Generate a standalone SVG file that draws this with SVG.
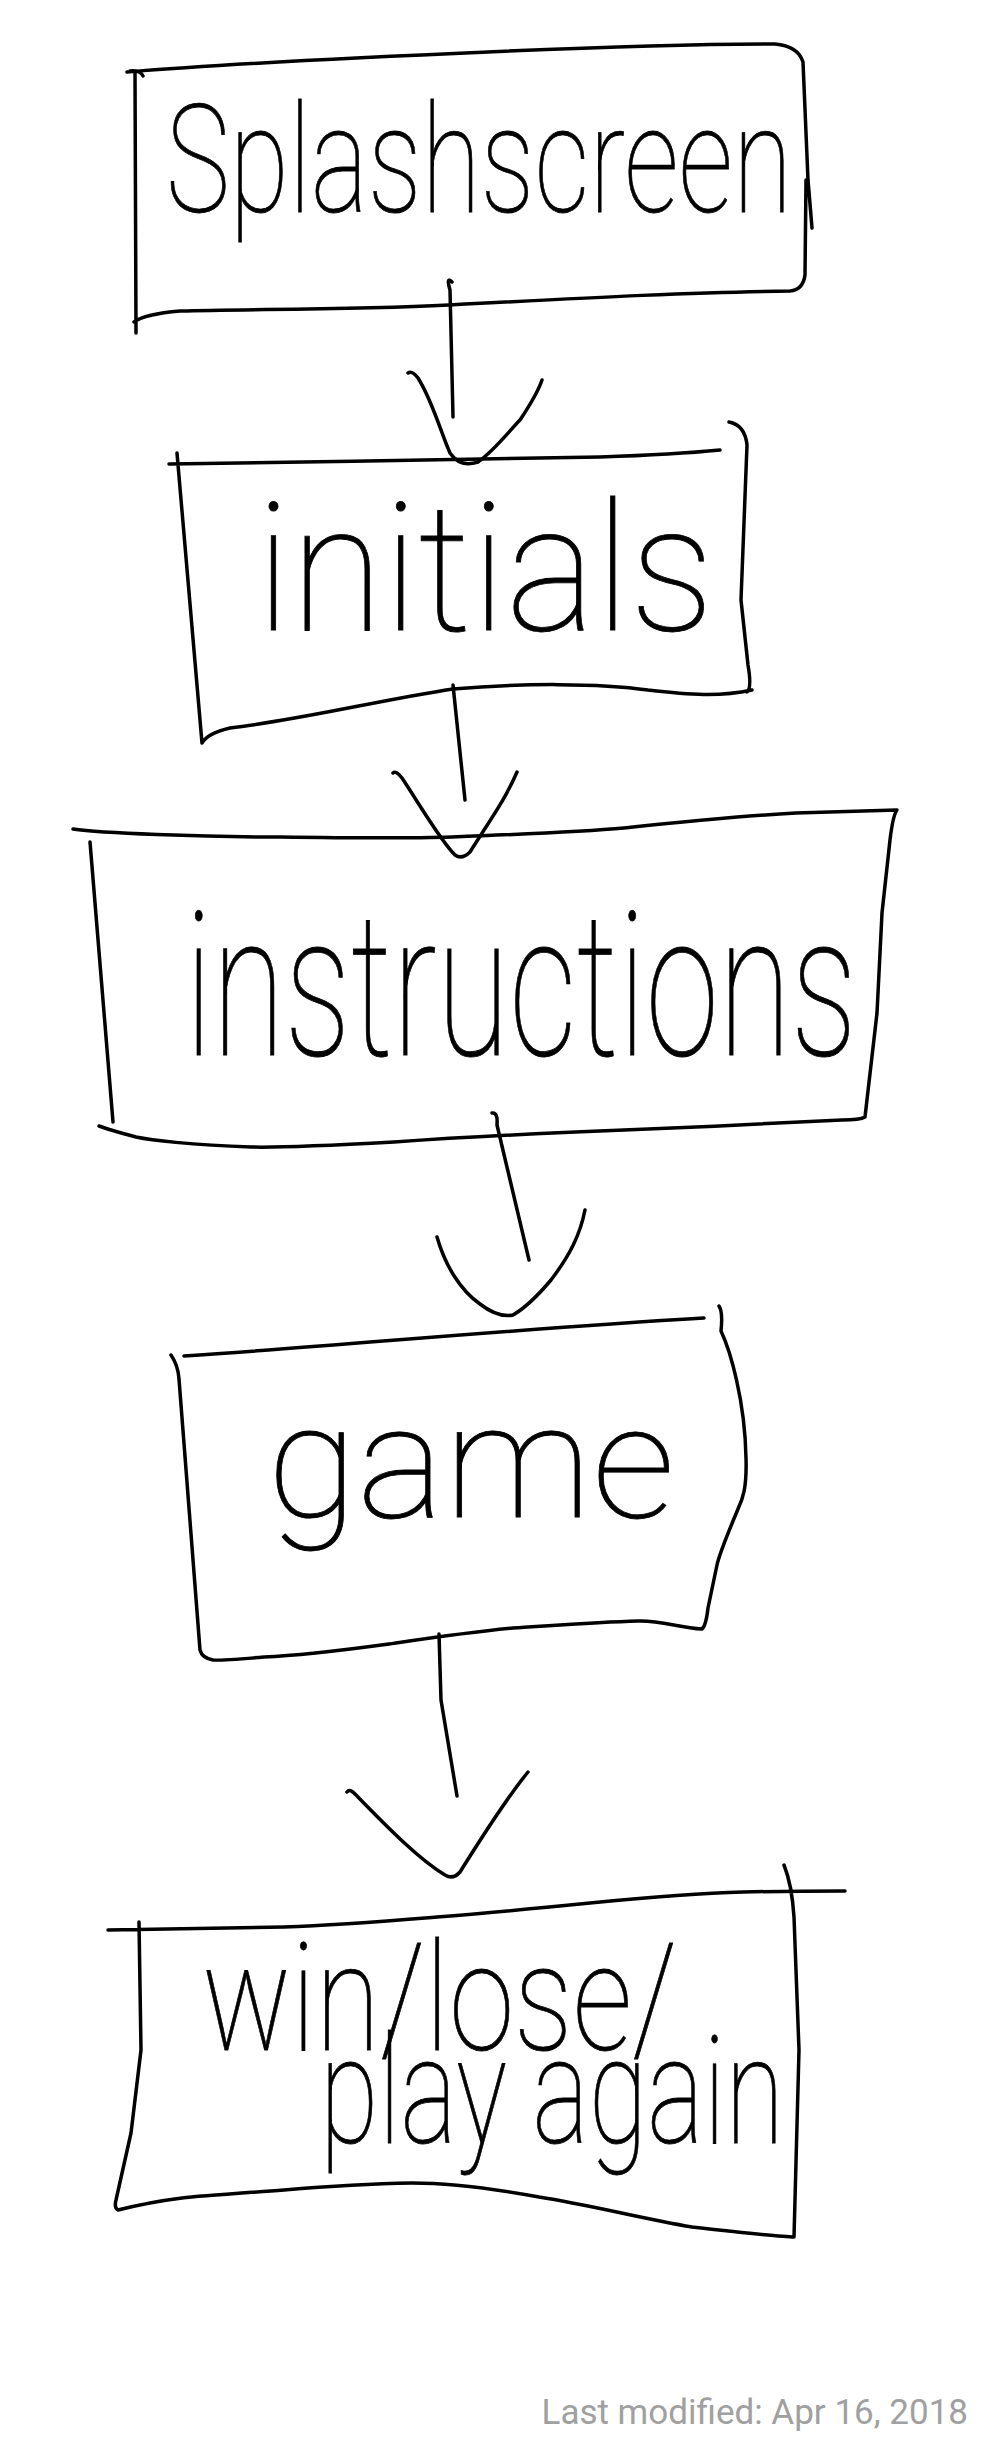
<svg xmlns="http://www.w3.org/2000/svg" width="1000" height="2464" viewBox="0 0 1000 2464">
<style>
.ink{fill:none;stroke:#000;stroke-width:3.5;stroke-linecap:round;stroke-linejoin:round}
.hand{font-family:Roboto,"DejaVu Sans",sans-serif;font-weight:100;fill:#000;stroke:#000;stroke-width:0.8}
.foot{font-family:Roboto,"Liberation Sans",sans-serif;font-size:35px;fill:#a0a0a0}
</style>
<rect width="1000" height="2464" fill="#fff"/>
<g id="splashscreen">
<text class="hand" x="166" y="212" font-size="150" textLength="626" lengthAdjust="spacingAndGlyphs">Splashscreen</text>
<path class="ink" d="M127,72 C200,66 300,60 488,52 C600,47 720,44 775,44 Q798,46 803,62 L808,180 L812,228 M806,180 L805,275 Q803,290 790,291 C700,292 600,297 449,305 C350,310 250,309 180,311 Q145,314 134,322 M135,73 L136,333 M130,71 Q140,70 143,76"/>
</g>
<g id="initials">
<text class="hand" x="256" y="630" font-size="178" textLength="458" lengthAdjust="spacingAndGlyphs">initials</text>
<path class="ink" d="M169,464 C300,462 500,459 600,457 C660,455 700,452 720,450 M177,453 L202,743 Q208,733 230,728 C300,720 380,700 453,689 C520,683 600,683 648,690 C690,695 720,697 752,690 M729,422 Q745,425 747,445 L741,600 L748,665 Q752,688 747,692"/>
</g>
<g id="instructions">
<text class="hand" x="185" y="1055" font-size="200" textLength="672" lengthAdjust="spacingAndGlyphs">instructions</text>
<path class="ink" d="M73,829 C100,833 200,837 280,837 C350,838 420,838 452,837 C530,834 580,832 624,828 C700,820 760,815 796,813 C840,812 870,811 897,810 Q893,815 890,840 L882,913 L877,1013 L865,1117 Q860,1120 842,1120 C760,1124 700,1127 624,1130 C520,1134 450,1138 394,1142 C320,1146 280,1148 251,1147 C190,1145 150,1140 136,1137 Q110,1130 99,1126 M90,842 L113,1122"/>
</g>
<g id="game">
<text class="hand" x="267" y="1517" font-size="160" textLength="408" lengthAdjust="spacingAndGlyphs">game</text>
<path class="ink" d="M184,1356 C350,1345 500,1330 704,1318 M719,1306 Q723,1312 721,1331 C730,1350 745,1400 746,1458 C747,1490 742,1500 738,1509 C725,1540 718,1560 717,1565 L708,1608 Q706,1626 702,1629 C680,1628 660,1620 638,1621 C600,1622 560,1625 513,1628 C470,1632 430,1638 389,1644 C330,1652 290,1656 264,1657 C240,1659 215,1661 213,1660 Q202,1658 200,1650 L179,1379 Q178,1365 171,1355"/>
</g>
<g id="winlose">
<text class="hand" font-size="150"><tspan x="202" y="2050" textLength="475" lengthAdjust="spacingAndGlyphs">win/lose/</tspan><tspan x="320" y="2143" textLength="464" lengthAdjust="spacingAndGlyphs">play again</tspan></text>
<path class="ink" d="M108,1930 C180,1929 240,1928 284,1927 C340,1925 400,1920 437,1917 C500,1912 550,1907 590,1903 C650,1897 700,1893 743,1892 C790,1891 820,1891 845,1891 M784,1865 Q792,1885 794,1917 L799,2050 L794,2237 Q780,2237 692,2227 C640,2218 590,2205 539,2197 C490,2188 450,2183 412,2183 C360,2184 320,2187 284,2190 C230,2194 200,2196 182,2198 C150,2202 130,2207 118,2210 Q114,2208 116,2200 L131,2133 L141,2050 L139,1922"/>
</g>
<g id="connectors">
<path class="ink" d="M452,282 Q446,276 450,290 L453,417 M408,373 Q412,370 418,378 C432,400 440,430 450,453 Q460,468 478,462 C495,450 510,430 520,420 C530,405 538,392 542,380"/>
<path class="ink" d="M453,685 L465,800 M393,773 Q396,770 402,778 C420,805 440,840 455,855 Q462,860 470,852 C490,820 505,800 517,772"/>
<path class="ink" d="M492,1113 Q498,1112 497,1125 L529,1260 M437,1237 C445,1265 460,1290 480,1304 Q498,1318 513,1315 Q530,1305 551,1280 C570,1255 580,1235 585,1210"/>
<path class="ink" d="M439,1634 L441,1700 L457,1796 M347,1792 Q350,1788 356,1795 C390,1830 420,1860 445,1875 Q453,1880 460,1872 C480,1840 505,1800 528,1772"/>
</g>
<text class="foot" x="968" y="2424" text-anchor="end">Last modified: Apr 16, 2018</text>
</svg>
